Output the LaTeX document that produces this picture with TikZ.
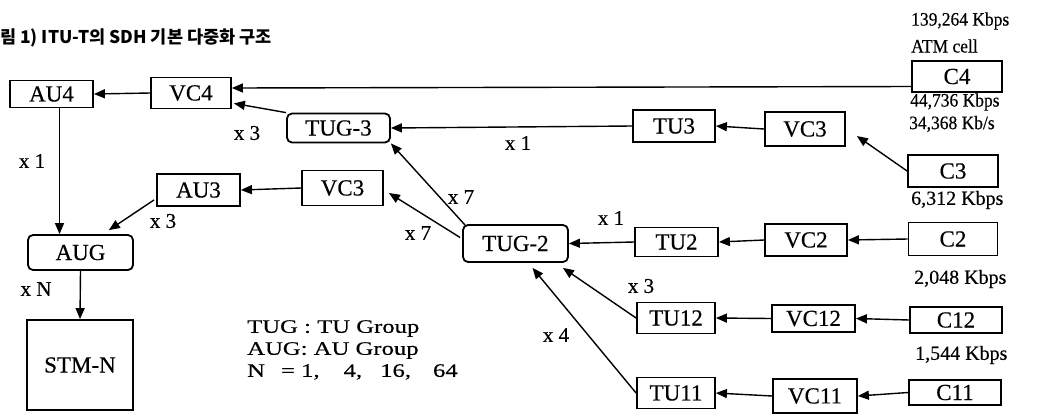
\documentclass[tikz,border=0pt]{standalone}
\usepackage{fontspec}
\setmainfont{Liberation Serif}[FakeBold=0.4]
\newfontfamily\krfont{Noto Sans CJK KR}
\newfontfamily\legendfont{Liberation Serif}[FakeStretch=1.3,FakeBold=0.4]
\newfontfamily\ratefont{Liberation Serif}[FakeStretch=0.92,FakeBold=0.4]
\usetikzlibrary{arrows.meta,calc}
\begin{document}
\begin{tikzpicture}[x=1pt,y=-1pt,
  box/.style={draw, line width=1.8pt, inner sep=0pt, font=\fontsize{23}{23}\selectfont},
  rbox/.style={box, rounded corners=5pt},
  arr/.style={line width=1.4pt, -{Triangle[length=11pt,width=9pt]}},
  lbl/.style={font=\fontsize{21}{21}\selectfont, inner sep=0pt},
  rate/.style={font=\ratefont\fontsize{19}{19}\selectfont, inner sep=0pt, anchor=west},
  rateb/.style={font=\fontsize{20}{20}\selectfont, inner sep=0pt, anchor=west},
]
\useasboundingbox (0,0) rectangle (1049,416);

% title
\node[font=\krfont\bfseries\fontsize{17.5}{17.5}\selectfont, anchor=west, inner sep=0pt] (title) at (0,38) {림 1) ITU-T의 SDH 기본 다중화 구조};

% boxes
\node[box, minimum width=83pt, minimum height=27pt] (AU4) at (51.5,94) {AU4};
\node[box, minimum width=80pt, minimum height=31pt] (VC4) at (191,93) {VC4};
\node[rbox, minimum width=103pt, minimum height=29pt] (TUG3) at (338.5,128) {TUG-3};
\node[box, minimum width=82pt, minimum height=32pt] (TU3) at (674,126) {TU3};
\node[box, minimum width=80pt, minimum height=34pt] (VC3r) at (805,129) {VC3};
\node[box, minimum width=90pt, minimum height=31pt] (C4) at (957,76.5) {C4};
\node[box, minimum width=90pt, minimum height=32pt] (C3) at (953,171) {C3};

\node[box, minimum width=83pt, minimum height=32pt] (AU3) at (198.5,190) {AU3};
\node[box, minimum width=81pt, minimum height=35pt] (VC3l) at (342.5,188) {VC3};
\node[rbox, minimum width=105pt, minimum height=35pt] (AUG) at (80.5,252.5) {AUG};
\node[box, minimum width=106pt, minimum height=90pt] (STM) at (80,365) {STM-N};

\node[rbox, minimum width=105pt, minimum height=37pt] (TUG2) at (515.5,243.5) {TUG-2};
\node[box, minimum width=83pt, minimum height=29pt] (TU2) at (676.5,242) {TU2};
\node[box, minimum width=82pt, minimum height=32pt] (VC2) at (806,240) {VC2};
\node[box, minimum width=89pt, minimum height=33pt] (C2) at (953,239) {C2};

\node[box, minimum width=78pt, minimum height=31pt] (TU12) at (676,318) {TU12};
\node[box, minimum width=83pt, minimum height=27pt] (VC12) at (813.5,318.5) {VC12};
\node[box, minimum width=92pt, minimum height=26pt] (C12) at (956,320) {C12};

\node[box, minimum width=78pt, minimum height=31pt] (TU11) at (676,393) {TU11};
\node[box, minimum width=84pt, minimum height=34pt] (VC11) at (815,396) {VC11};
\node[box, minimum width=92pt, minimum height=25pt] (C11) at (955,392.5) {C11};

% rate texts
\node[rate] (r1) at (911,21) {139,264 Kbps};
\node[rate] (r2) at (911,46) {ATM cell};
\node[rate] (r3) at (910,102) {44,736 Kbps};
\node[rate] (r4) at (909,124) {34,368 Kb/s};
\node[rateb] (r5) at (911,200) {6,312 Kbps};
\node[rateb] (r6) at (914,279) {2,048 Kbps};
\node[rateb] (r7) at (915,355) {1,544 Kbps};

% multiplicity labels
\node[lbl] (m1) at (247,133) {x 3};
\node[lbl] (m2) at (518,143) {x 1};
\node[lbl] (m3) at (32,161) {x 1};
\node[lbl] (m4) at (163,221) {x 3};
\node[lbl] (m5) at (36,289) {x N};
\node[lbl] (m6) at (461,197) {x 7};
\node[lbl] (m7) at (418,233) {x 7};
\node[lbl] (m8) at (611,218) {x 1};
\node[lbl] (m9) at (641,286) {x 3};
\node[lbl] (m10) at (556,335) {x 4};

% legend
\node[font=\legendfont\fontsize{19}{22}\selectfont, anchor=north west, align=left, inner sep=0pt] (legend) at (247,320)
  {TUG : TU Group\\AUG: AU Group\\N\hspace{16pt}= 1,\hspace{24pt}4,\hspace{18pt}16,\hspace{22pt}64};

% connectors
\draw[arr] ($(C4.west)+(0,10)$) -- ($(VC4.east)+(0,-5)$);
\draw[arr] (VC4.west) -- (AU4.east);
\draw[arr] (TUG3.north west) -- ($(VC4.south east)+(2,-6)$);
\draw[arr] (TU3.west) -- (TUG3.east);
\draw[arr] (VC3r.west) -- (TU3.east);
\draw[arr] (C3.west) -- ($(VC3r.east)+(11,7)$);
\draw[arr] ([xshift=8pt]AU4.south) -- ([xshift=8pt]AU4.south |- AUG.north);
\draw[arr] (AUG.south) -- (STM.north);
\draw[arr] (VC3l.west) -- (AU3.east);
\draw[arr] ($(AU3.south west)+(-2,-7)$) -- ($(AUG.north east)+(-25,-4)$);
\draw[arr] ($(TUG2.north west)+(3,1)$) -- (TUG3.south east);
\draw[arr] ($(TUG2.west)+(-2,-6)$) -- ($(VC3l.east)+(5,5)$);
\draw[arr] (TU2.west) -- (TUG2.east);
\draw[arr] (VC2.west) -- (TU2.east);
\draw[arr] (C2.west) -- (VC2.east);
\draw[arr] (TU12.west) -- ($(TUG2.south east)+(-6,5)$);
\draw[arr] (TU11.west) -- ($(TUG2.south)+(17,5)$);
\draw[arr] (VC12.west) -- (TU12.east);
\draw[arr] (C12.west) -- (VC12.east);
\draw[arr] (VC11.west) -- (TU11.east);
\draw[arr] (C11.west) -- (VC11.east);
\end{tikzpicture}
\end{document}
